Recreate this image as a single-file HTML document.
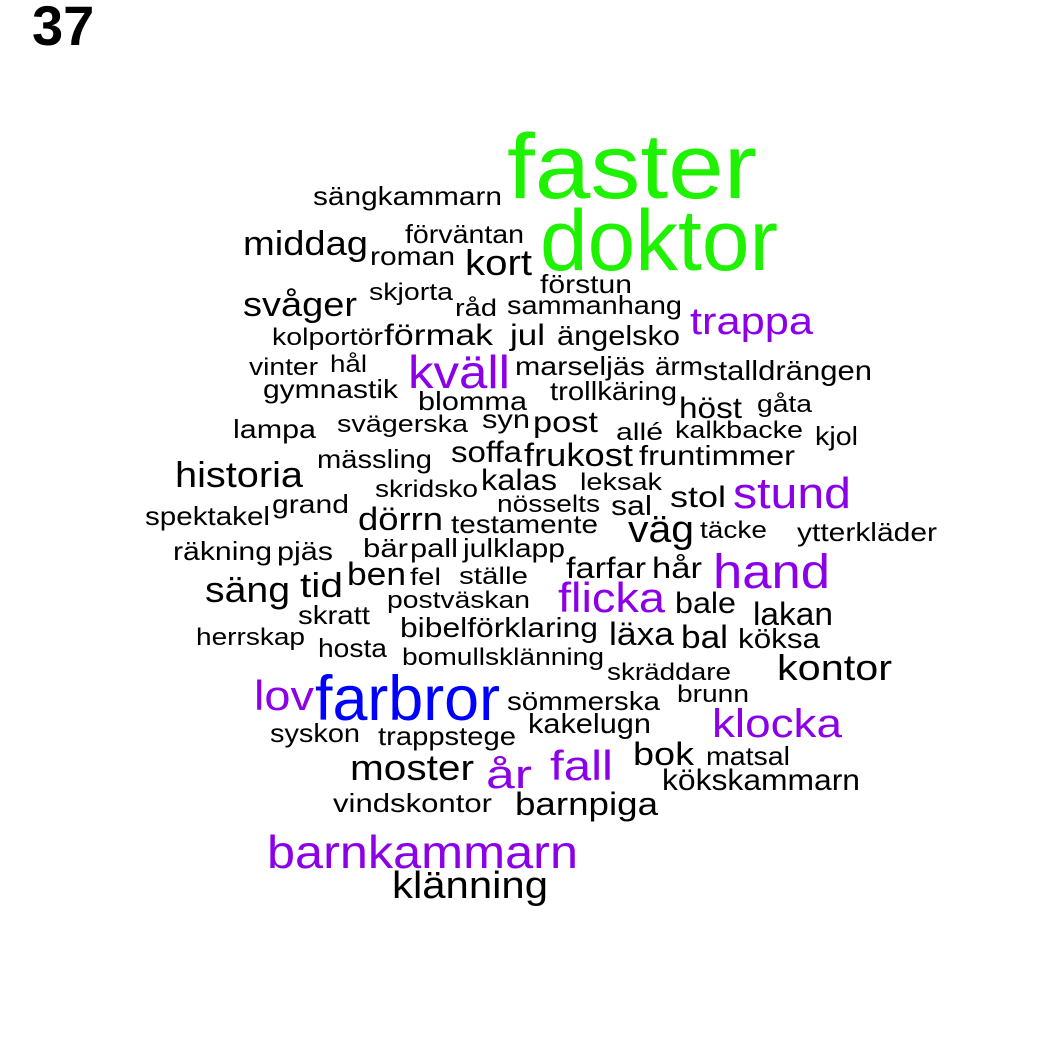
<!DOCTYPE html>
<html>
<head>
<meta charset="utf-8">
<style>
html,body{margin:0;padding:0;background:#fff;}
svg{display:block;}
text{font-family:"Liberation Sans",Arial,sans-serif;}
</style>
</head>
<body>
<svg id="cloud" width="1050" height="1050" viewBox="0 0 1050 1050" xmlns="http://www.w3.org/2000/svg">
  <rect x="0" y="0" width="1050" height="1050" fill="#fff"/>
  <text x="32" y="45" font-size="56" font-weight="bold" fill="#000">37</text>
</svg>
<script>
const words = ["sängkammarn","faster","doktor","middag","förväntan","roman","kort","förstun","skjorta","råd","sammanhang","svåger","trappa","kolportör","förmak","jul","ängelsko","vinter","hål","kväll","marseljäs","ärm","stalldrängen","gymnastik","trollkäring","blomma","höst","gåta","syn","post","lampa","svägerska","allé","kalkbacke","kjol","soffa","frukost","fruntimmer","mässling","historia","kalas","leksak","skridsko","stund","nösselts","stol","sal","grand","spektakel","dörrn","testamente","väg","täcke","ytterkläder","räkning","pjäs","bär","pall","julklapp","farfar","hår","hand","säng","tid","ben","fel","ställe","flicka","postväskan","bale","skratt","lakan","bibelförklaring","läxa","bal","köksa","herrskap","hosta","bomullsklänning","skräddare","kontor","lov","farbror","brunn","sömmerska","klocka","kakelugn","syskon","trappstege","fall","år","moster","bok","matsal","kökskammarn","vindskontor","barnpiga","barnkammarn","klänning"];
// frequency group: 0 = black, 1 = purple, 2 = blue, 3 = green
const groups = [0,3,3,0,0,0,0,0,0,0,0,0,1,0,0,0,0,0,0,1,0,0,0,0,0,0,0,0,0,0,0,0,0,0,0,0,0,0,0,0,0,0,0,1,0,0,0,0,0,0,0,0,0,0,0,0,0,0,0,0,0,1,0,0,0,0,0,1,0,0,0,0,0,0,0,0,0,0,0,0,0,1,2,0,0,1,0,0,0,1,1,0,0,0,0,0,0,1,0];
const sizes = [26,92,86,34,26,26,36,26,24,24,26,34,38,24,30,30,28,24,24,46,26,26,28,26,26,26,30,24,26,30,26,24,24,24,26,30,32,28,26,36,30,24,24,44,24,30,28,26,26,32,26,38,24,26,26,26,26,26,26,30,30,48,36,34,32,24,24,42,24,30,26,32,28,32,32,28,24,26,24,24,36,42,63,24,26,40,28,26,26,42,40,36,32,26,30,26,32,46,38];
// layout: left x, baseline y, width
const xs = [313,507,540,243,405,370,465,540,369,455,507,243,690,272,384,510,557,249,330,408,515,655,703,263,550,418,679,757,482,533,233,337,616,675,815,451,524,639,317,175,481,580,375,733,497,670,611,272,145,358,451,628,700,797,173,277,363,410,463,566,652,713,205,300,347,410,459,558,387,675,298,753,400,609,681,738,196,318,402,607,777,254,315,677,507,712,528,270,378,550,486,350,633,706,662,333,515,267,392];
const ys = [205,198,270,255,243,265,275,293,300,316,314,316,334,345,345,345,345,375,372,388,375,375,380,398,400,410,418,412,428,432,438,432,440,438,445,462,466,465,468,487,490,490,497,508,512,507,515,513,525,530,533,542,538,541,560,560,557,557,557,578,578,588,602,597,585,585,584,612,608,613,624,625,637,645,648,648,645,657,665,680,680,710,720,702,710,737,733,742,745,780,788,780,765,765,790,812,815,868,898];
const ws = [189,250,238,125,119,85,67,92,84,42,175,114,123,111,109,35,123,69,37,102,130,48,169,135,127,109,63,55,48,65,83,131,47,128,43,71,109,156,115,128,76,82,103,118,103,56,41,77,125,85,147,66,67,140,99,56,45,48,102,80,50,117,85,43,59,31,69,107,143,61,72,80,198,65,47,82,109,69,202,124,115,60,185,72,153,130,123,90,138,63,46,124,61,84,198,159,143,311,156];
const palette = ["#000000","#8c00e8","#0000ff","#1ef200"];

const svg = document.getElementById('cloud');
const NS = 'http://www.w3.org/2000/svg';
for (let i = 0; i < words.length; i++) {
  const t = document.createElementNS(NS, 'text');
  t.setAttribute('x', xs[i]);
  t.setAttribute('y', ys[i]);
  t.setAttribute('font-size', sizes[i]);
  t.setAttribute('fill', palette[groups[i]]);
  t.setAttribute('textLength', ws[i]);
  t.setAttribute('lengthAdjust', 'spacingAndGlyphs');
  
  
  t.textContent = words[i];
  svg.appendChild(t);
}
</script>
</body>
</html>
